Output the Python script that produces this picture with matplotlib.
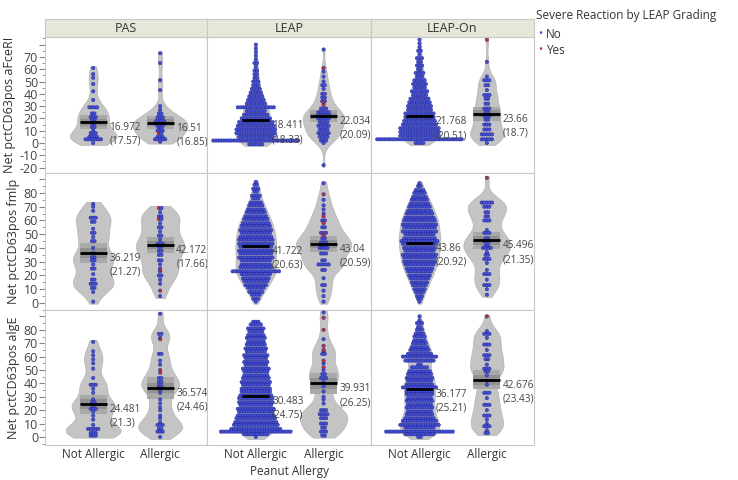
import matplotlib
matplotlib.use("Agg")
import matplotlib.pyplot as plt
from matplotlib.ticker import MultipleLocator
import numpy as np

plt.rcParams['font.family'] = ['Open Sans', 'DejaVu Sans']

studies = ['PAS', 'LEAP', 'LEAP-On']
groups = ['Not Allergic', 'Allergic']
assays = ['Net pctCD63pos aFceRI', 'Net pctCD63pos fmlp', 'Net pctCD63pos algE']

# dot rows: (value, number of dots); severe reactions (red) listed separately
# --- aFceRI ---
fceri_pas_na = [(61, 1), (56, 1), (53, 1), (48, 1), (42, 1), (35, 1), (29, 4), (24, 2), (21, 3), (19, 2),
                (16, 2), (13, 2), (10, 1), (8, 3), (5, 4), (3, 7), (0, 1)]
fceri_pas_a = [(73, 1), (65, 1), (51, 1), (43, 1), (30, 1), (27, 1), (24, 2), (21, 3), (18, 4), (16, 4),
               (14, 3), (12, 2), (10, 3), (8, 1), (5, 3), (3, 5), (1, 1)]
fceri_pas_a_red = [8, 16]
fceri_leap_na = [(80, 1), (77, 1), (74, 1), (71, 1), (68, 1), (65, 2), (62, 1), (59, 2), (56, 2), (53, 2),
                 (50, 3), (47, 3), (44, 4), (41, 5), (38, 6), (35, 7), (32, 8), (29, 15), (26, 8), (23, 10),
                 (20, 12), (17, 14), (14, 15), (11, 16), (8, 16), (5, 14), (2, 34), (-1, 6)]
fceri_leap_a = [(76, 1), (58, 1), (54, 1), (50, 1), (47, 2), (44, 1), (40, 2), (37, 2), (34, 2), (28, 3),
                (25, 5), (22, 6), (20, 5), (17, 4), (14, 5), (11, 4), (8, 5), (5, 4), (2, 3), (0, 1), (-18, 1)]
fceri_leap_a_red = [61, 33, 31]
fceri_leapon_na = [(84, 1), (81, 1), (78, 1), (75, 2), (72, 1), (69, 3), (66, 2), (63, 3), (60, 2), (57, 4),
                   (54, 3), (51, 5), (48, 6), (45, 5), (42, 7), (39, 6), (36, 8), (33, 9), (30, 10), (27, 10),
                   (24, 12), (21, 12), (18, 13), (15, 14), (12, 16), (9, 16), (6, 16), (3, 34), (0, 4)]
fceri_leapon_a = [(66, 1), (54, 1), (51, 3), (47, 2), (43, 1), (39, 3), (36, 2), (32, 2), (28, 3), (25, 2),
                  (22, 3), (19, 2), (15, 3), (11, 3), (7, 5), (3, 5), (0, 1)]
fceri_leapon_a_red = [84]

# --- fmlp ---
fmlp_pas_na = [(72, 1), (70, 1), (67, 1), (62, 3), (59, 2), (54, 1), (51, 2), (48, 1), (45, 2), (40, 1),
               (36, 2), (33, 2), (31, 2), (28, 1), (25, 2), (21, 1), (17, 2), (14, 3), (11, 2), (8, 1), (1, 1)]
fmlp_pas_a = [(69, 1), (66, 1), (63, 2), (61, 1), (58, 1), (55, 2), (52, 1), (49, 2), (46, 1), (43, 3),
              (41, 2), (38, 2), (35, 2), (31, 2), (28, 1), (25, 1), (23, 1), (20, 2), (17, 1), (14, 1), (5, 1)]
fmlp_pas_a_red = [69, 61, 24, 9]
fmlp_leap_na = [(88, 1), (86, 2), (83, 3), (81, 2), (78, 4), (76, 3), (73, 5), (71, 6), (68, 7), (66, 8),
                (63, 9), (61, 10), (58, 11), (56, 12), (53, 13), (51, 12), (48, 13), (46, 14), (43, 14),
                (41, 13), (38, 14), (36, 13), (33, 14), (31, 12), (28, 12), (26, 13), (23, 19), (21, 12),
                (18, 11), (16, 10), (13, 9), (11, 7), (8, 6), (6, 4), (3, 3), (1, 1)]
fmlp_leap_a = [(87, 1), (75, 1), (71, 1), (68, 1), (65, 1), (60, 2), (55, 2), (51, 2), (47, 2), (44, 3),
               (42, 3), (40, 4), (36, 3), (31, 2), (28, 5), (24, 2), (18, 1), (13, 2), (9, 1), (5, 1), (1, 1)]
fmlp_leap_a_red = [79, 63, 58, 51, 49]
fmlp_leapon_na = [(87, 1), (85, 2), (82, 4), (80, 5), (77, 6), (75, 7), (72, 8), (70, 9), (67, 10), (65, 11),
                  (62, 12), (60, 13), (57, 14), (55, 13), (52, 14), (50, 12), (47, 13), (45, 15), (43, 14),
                  (40, 13), (38, 12), (35, 14), (33, 13), (30, 13), (28, 12), (25, 11), (23, 10), (20, 9),
                  (18, 8), (15, 7), (13, 6), (10, 5), (8, 4), (5, 3), (3, 2), (1, 1)]
fmlp_leapon_a = [(73, 5), (70, 3), (66, 2), (63, 2), (60, 3), (53, 1), (51, 3), (47, 2), (45, 3), (42, 2),
                 (40, 4), (37, 1), (35, 2), (32, 3), (29, 1), (24, 1), (21, 3), (17, 1), (13, 3), (10, 1), (6, 1)]
fmlp_leapon_a_red = [91]

# --- algE ---
alge_pas_na = [(71, 1), (64, 1), (61, 1), (58, 1), (55, 1), (51, 1), (44, 1), (39, 3), (36, 1), (33, 1),
               (28, 1), (26, 2), (24, 2), (21, 3), (19, 1), (16, 1), (13, 1), (9, 1), (6, 5), (3, 3), (1, 3)]
alge_pas_a = [(92, 1), (77, 2), (74, 1), (62, 2), (57, 1), (54, 1), (44, 2), (41, 2), (38, 2), (36, 1),
              (33, 1), (28, 1), (25, 1), (22, 1), (20, 1), (16, 1), (14, 1), (11, 1), (9, 3), (6, 2), (4, 3), (0, 1)]
alge_pas_a_red = [73, 50, 48, 36]
alge_leap_na = [(86, 3), (84, 5), (81, 7), (79, 6), (76, 7), (74, 8), (71, 7), (69, 8), (66, 9), (64, 8),
                (61, 10), (59, 9), (56, 10), (54, 9), (51, 11), (49, 10), (46, 10), (44, 11), (41, 12),
                (39, 11), (36, 12), (34, 12), (31, 13), (29, 14), (26, 14), (24, 13), (21, 15), (19, 14),
                (16, 15), (14, 16), (11, 17), (9, 18), (6, 20), (4, 28), (2, 10), (0, 1)]
alge_leap_a = [(93, 1), (73, 1), (64, 1), (62, 2), (55, 1), (50, 1), (47, 2), (44, 3), (41, 1), (38, 1),
               (34, 1), (30, 1), (28, 1), (25, 1), (20, 3), (17, 4), (14, 3), (10, 3), (7, 2), (4, 3), (1, 2)]
alge_leap_a_red = [89, 80, 68, 65, 57, 52]
alge_leapon_na = [(90, 1), (87, 1), (85, 3), (82, 2), (80, 3), (77, 4), (75, 5), (72, 5), (70, 6), (67, 7),
                  (65, 8), (62, 10), (60, 14), (57, 12), (54, 2), (52, 7), (49, 9), (47, 10), (44, 11),
                  (42, 10), (39, 11), (37, 14), (34, 11), (32, 11), (29, 10), (27, 11), (24, 10), (22, 11),
                  (19, 10), (17, 11), (14, 12), (12, 14), (9, 16), (7, 12), (4, 27), (2, 12), (0, 2)]
alge_leapon_a = [(79, 1), (77, 3), (74, 1), (69, 3), (65, 1), (61, 3), (58, 2), (54, 1), (51, 3), (49, 2),
                 (46, 1), (42, 1), (39, 1), (33, 3), (29, 1), (24, 3), (20, 1), (16, 3), (13, 1), (10, 1),
                 (8, 3), (5, 1), (3, 2)]
alge_leapon_a_red = [90]

# mean and (sd) labels, PAS NA, PAS A, LEAP NA, LEAP A, LEAP-On NA, LEAP-On A
fceri_means = ['16.972', '16.51', '18.411', '22.034', '21.768', '23.66']
fceri_sds = ['17.57', '16.85', '18.33', '20.09', '20.51', '18.7']
fmlp_means = ['36.219', '42.172', '41.722', '43.04', '43.86', '45.496']
fmlp_sds = ['21.27', '17.66', '20.63', '20.59', '20.92', '21.35']
alge_means = ['24.481', '36.574', '30.483', '39.931', '36.177', '42.676']
alge_sds = ['21.3', '24.46', '24.75', '26.25', '25.21', '23.43']

rows = [
    ([fceri_pas_na, fceri_pas_a, fceri_leap_na, fceri_leap_a, fceri_leapon_na, fceri_leapon_a],
     [[], fceri_pas_a_red, [], fceri_leap_a_red, [], fceri_leapon_a_red], fceri_means, fceri_sds),
    ([fmlp_pas_na, fmlp_pas_a, fmlp_leap_na, fmlp_leap_a, fmlp_leapon_na, fmlp_leapon_a],
     [[], fmlp_pas_a_red, [], fmlp_leap_a_red, [], fmlp_leapon_a_red], fmlp_means, fmlp_sds),
    ([alge_pas_na, alge_pas_a, alge_leap_na, alge_leap_a, alge_leapon_na, alge_leapon_a],
     [[], alge_pas_a_red, [], alge_leap_a_red, [], alge_leapon_a_red], alge_means, alge_sds),
]

ylims = [(-24.4, 86.2), (-5.1, 94.5), (-6.0, 94.8)]
row_px = [(37, 173), (173, 310), (310, 445)]
col_px = [(45, 207), (207, 371), (371, 534)]

W, H = 738, 480
fig = plt.figure(figsize=(W / 100, H / 100), dpi=100)

BLUE = '#4450d0'
BLUE_EDGE = '#22279a'
RED = '#c8302c'
step = 0.038
bw = 5.5


def kde(vals, grid):
    d = np.exp(-0.5 * ((grid[:, None] - vals[None, :]) / bw) ** 2).sum(1)
    return d / (len(vals) * bw * np.sqrt(2 * np.pi))


for r, (data, reds, means, sds) in enumerate(rows):
    # densities first so the whole row shares one width scale
    dens = []
    for g in range(6):
        vals = np.repeat([v for v, c in data[g]], [c for v, c in data[g]]).astype(float)
        vals = np.concatenate([vals, np.array(reds[g], float)])
        grid = np.linspace(vals.min() - 1.5, vals.max() + 1.5, 300)
        dens.append((vals, grid, kde(vals, grid)))
    scale = 0.41 / max(d[2].max() for d in dens)

    for c in range(3):
        x0, x1 = col_px[c]
        y0, y1 = row_px[r]
        ax = fig.add_axes([x0 / W, 1 - y1 / H, (x1 - x0) / W, (y1 - y0) / H])
        ax.set_xlim(0.28, 2.70)
        ax.set_ylim(*ylims[r])
        for k in range(2):
            g = 2 * c + k
            xc = k + 1
            vals, grid, d = dens[g]
            ax.fill_betweenx(grid, xc - d * scale, xc + d * scale, facecolor='#c4c4c4',
                             edgecolor='#b4b4b4', lw=0.5, zorder=1)
            m = float(means[g])
            se = float(sds[g]) / np.sqrt(len(vals))
            ax.fill_between([xc - 0.2, xc + 0.2], m - 1.96 * se, m + 1.96 * se, color='#a9a9a9', lw=0, zorder=2)
            ax.fill_between([xc - 0.2, xc + 0.2], m - se, m + se, color='#929292', lw=0, zorder=2)

            # beeswarm rows
            levels = {}
            for v, n in data[g]:
                levels[v] = [BLUE] * n
            for v in reds[g]:
                lst = levels.setdefault(v, [])
                lst.insert(len(lst) // 2, RED)
            xs, ys, cs = [], [], []
            for v, cols in levels.items():
                n = len(cols)
                for i, col in enumerate(cols):
                    xs.append(xc + (i - (n - 1) / 2) * step)
                    ys.append(v)
                    cs.append(col)
            ax.scatter(xs, ys, s=6, c=cs, edgecolors=BLUE_EDGE, linewidths=0.35, zorder=3)
            ax.plot([xc - 0.2, xc + 0.2], [m, m], color='black', lw=2, zorder=4, solid_capstyle='butt')
            ax.text(xc + 0.24, m, f'{means[g]}\n({sds[g]})', fontsize=7.2, color='#444444',
                    va='top', ha='left', linespacing=1.35, zorder=5)

        for s in ax.spines.values():
            s.set_color('#c8c8c8')
            s.set_linewidth(0.8)
        ax.set_xticks([1, 2])
        if r == 2:
            ax.set_xticklabels(groups, fontsize=8.5, color='#333333')
        else:
            ax.set_xticklabels([])
        ax.tick_params(axis='x', length=0, pad=2)
        if c == 0:
            if r == 0:
                ticks = list(range(-20, 90, 10))
            else:
                ticks = list(range(0, 100, 10))
            ax.set_yticks(ticks)
            ax.set_yticklabels([str(t) if t < ticks[-1] else '' for t in ticks], fontsize=9, color='#444444')
            ax.yaxis.set_minor_locator(MultipleLocator(5))
            ax.tick_params(axis='y', which='major', length=4, color='#888888', pad=1)
            ax.tick_params(axis='y', which='minor', length=2, color='#888888')
            ax.set_ylabel(assays[r], fontsize=9, color='#333333', labelpad=3)
        else:
            ax.set_yticks([])

# facet strips
for c in range(3):
    x0, x1 = col_px[c]
    sx = fig.add_axes([x0 / W, 1 - 37 / H, (x1 - x0) / W, 18 / H])
    sx.set_facecolor('#e6e6d9')
    sx.set_xticks([])
    sx.set_yticks([])
    for s in sx.spines.values():
        s.set_color('#c8c8c8')
        s.set_linewidth(0.8)
    sx.text(0.5, 0.5, studies[c], ha='center', va='center', fontsize=9, color='#333333', transform=sx.transAxes)

fig.text(289 / W, 1 - 471 / H, 'Peanut Allergy', ha='center', va='center', fontsize=8.5, color='#333333')

# legend
fig.text(536 / W, 1 - 15 / H, 'Severe Reaction by LEAP Grading', ha='left', va='center', fontsize=8.5, color='#333333')
fig.text(538 / W, 1 - 34 / H, '•', ha='left', va='center', fontsize=8, color=BLUE)
fig.text(546 / W, 1 - 34 / H, 'No', ha='left', va='center', fontsize=8.5, color='#333333')
fig.text(538 / W, 1 - 50 / H, '•', ha='left', va='center', fontsize=8, color=RED)
fig.text(546 / W, 1 - 50 / H, 'Yes', ha='left', va='center', fontsize=8.5, color='#333333')

fig.savefig('out.png', dpi=100)
